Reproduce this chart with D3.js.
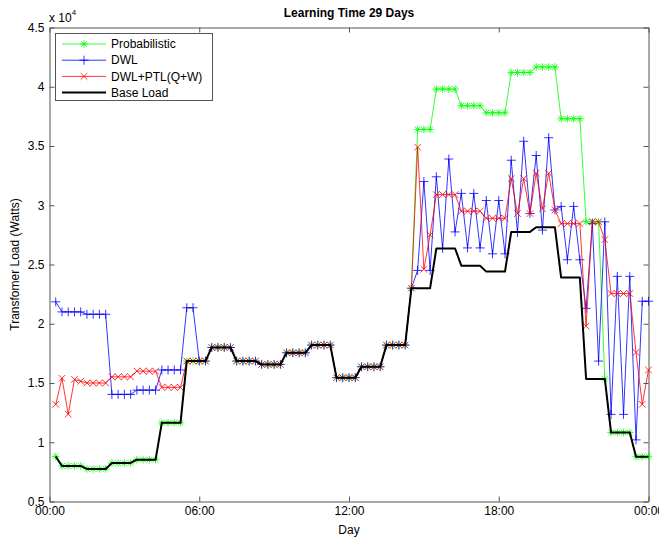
<!DOCTYPE html>
<html>
<head>
<meta charset="utf-8">
<script src="https://cdn.jsdelivr.net/npm/d3@7"></script>
<style>
  html, body { margin: 0; padding: 0; background: #fff; }
  svg { display: block; font-family: "Liberation Sans", Arial, sans-serif; }
</style>
</head>
<body>
<svg id="chart" width="659" height="540"></svg>
<script>
// ---------- DATA (watts), one point every 15 minutes from 00:15 to 24:00 ----------
const hours = Array.from({length: 96}, (_, i) => (i + 1) * 0.25); // time axis positions (hours)

const baseLoad = [8800,
  8000,8000,8000,8000, 7750,7750,7750,7750, 8250,8250,8250,8250, 8530,8530,8530,8530,
  11640,11640,11640,11640, 16850,16850,16850,16850, 18000,18000,18000,18000, 16850,16850,16850,16850,
  16570,16570,16570,16570, 17550,17550,17550,17550, 18200,18200,18200,18200, 15450,15450,15450,15450,
  16370,16370,16370,16370, 18200,18200,18200,18200, 23000,23000,23000,23000, 26350,26350,26350,26350,
  24900,24900,24900,24900, 24400,24400,24400,24400, 27750,27750,27750,27750, 28150,28150,28150,28150,
  23900,23900,23900,23900, 15340,15340,15340,15340, 10820,10820,10820,10820, 8780,8780,8780];

const probabilistic = [8800,
  8000,8000,8000,8000, 7750,7750,7750,7750, 8250,8250,8250,8250, 8530,8530,8530,8530,
  11640,11640,11640,11640, 16850,16850,16850,16850, 18000,18000,18000,18000, 16850,16850,16850,16850,
  16570,16570,16570,16570, 17550,17550,17550,17550, 18200,18200,18200,18200, 15450,15450,15450,15450,
  16370,16370,16370,16370, 18200,18200,18200,18200, 23000,36400,36400,36400, 39800,39800,39800,39800,
  38400,38400,38400,38400, 37800,37800,37800,37800, 41200,41200,41200,41200, 41670,41670,41670,41670,
  37300,37300,37300,37300, 28600,28600,28600,15340, 10820,10820,10820,10820, 8780,8780,8780];

const dwl = [21850,
  21000,21000,21000,21000, 20800,20800,20800,20800, 14040,14040,14040,14040, 14400,14400,14400,14400,
  16100,16100,16100,16100, 21350,21350,16850,16850, 18000,18000,18000,18000, 16850,16850,16850,16850,
  16570,16570,16570,16570, 17550,17550,17550,17550, 18200,18200,18200,18200, 15450,15450,15450,15450,
  16370,16370,16370,16370, 18200,18200,18200,18200, 23000,24500,32000,24500, 32400,26350,33900,27750,
  31000,26400,31000,26400, 30400,25900,30400,25900, 33800,27700,35400,29300, 34200,27900,35700,29600,
  29900,25400,29900,25400, 21300,28450,16850,28600, 12350,24000,12350,24000, 10200,21900,21900];

const dwlPtl = [13200,
  15400,12370,15300,15150, 15000,15000,15000,15000, 15520,15520,15520,15520, 16000,16000,16000,16000,
  14630,14630,14630,14630, 16850,16850,16850,16850, 18000,18000,18000,18000, 16850,16850,16850,16850,
  16570,16570,16570,16570, 17550,17550,17550,17550, 18200,18200,18200,18200, 15450,15450,15450,15450,
  16370,16370,16370,16370, 18200,18200,18200,18200, 23000,34900,24600,27500, 30900,30900,30900,30900,
  29500,29500,29500,29500, 28900,28900,28900,28900, 32250,29300,32250,29300, 32700,29700,32700,29600,
  28450,28450,28450,28450, 19800,28600,28600,27100, 22550,22550,22550,22550, 17580,13200,16100];

const xTickValues = [0, 6, 12, 18, 24];
const xTickLabels = ["00:00", "06:00", "12:00", "18:00", "00:00"];
const yTickValues = [5000, 10000, 15000, 20000, 25000, 30000, 35000, 40000, 45000];
const yTickLabels = ["0.5", "1", "1.5", "2", "2.5", "3", "3.5", "4", "4.5"];

const seriesNames = ["Probabilistic", "DWL", "DWL+PTL(Q+W)", "Base Load"];
const seriesColors = ["#00ff00", "#0000ff", "#ff0000", "#000000"];
const seriesMarkers = ["star", "plus", "cross", "none"];
const seriesData = [probabilistic, dwl, dwlPtl, baseLoad];

// ---------- CHART ----------
const svg = d3.select("#chart");
const L = 49.5, R = 648.5, T = 27.5, B = 501.5;

const x = d3.scaleLinear().domain([0, 24]).range([L, R]);
const y = d3.scaleLinear().domain([5000, 45000]).range([B, T]);

const axisColor = "#555";

// Axes (inward ticks, box)
const gx = svg.append("g").attr("transform", `translate(0,${B})`)
  .call(d3.axisBottom(x).tickValues(xTickValues).tickFormat((d, i) => xTickLabels[i])
    .tickSizeInner(-5).tickSizeOuter(0).tickPadding(5));
const gxt = svg.append("g").attr("transform", `translate(0,${T})`)
  .call(d3.axisTop(x).tickValues(xTickValues).tickFormat("").tickSizeInner(-5).tickSizeOuter(0));
const gy = svg.append("g").attr("transform", `translate(${L},0)`)
  .call(d3.axisLeft(y).tickValues(yTickValues).tickFormat((d, i) => yTickLabels[i])
    .tickSizeInner(-5).tickSizeOuter(0).tickPadding(5));
const gyr = svg.append("g").attr("transform", `translate(${R},0)`)
  .call(d3.axisRight(y).tickValues(yTickValues).tickFormat("").tickSizeInner(-5).tickSizeOuter(0));

[gx, gxt, gy, gyr].forEach(g => {
  g.select(".domain").attr("stroke", axisColor);
  g.selectAll(".tick line").attr("stroke", axisColor);
  g.selectAll(".tick text").attr("fill", "#000").style("font-size", "12px")
    .style("font-family", "'Liberation Sans', Arial, sans-serif");
});

// Lines and markers
const line = d3.line().x((d, i) => x(hours[i])).y(d => y(d));

function markerPath(type, cx, cy) {
  if (type === "plus") {
    const s = 4.5;
    return `M${cx - s},${cy}H${cx + s}M${cx},${cy - s}V${cy + s}`;
  }
  if (type === "cross") {
    const s = 3.3;
    return `M${cx - s},${cy - s}L${cx + s},${cy + s}M${cx - s},${cy + s}L${cx + s},${cy - s}`;
  }
  if (type === "star") {
    const s = 3.8, d = 2.8;
    return `M${cx - s},${cy}H${cx + s}M${cx},${cy - s}V${cy + s}` +
           `M${cx - d},${cy - d}L${cx + d},${cy + d}M${cx - d},${cy + d}L${cx + d},${cy - d}`;
  }
  return "";
}

seriesData.forEach((data, k) => {
  const g = svg.append("g");
  g.append("path").datum(data)
    .attr("d", line)
    .attr("fill", "none")
    .attr("stroke", seriesColors[k])
    .attr("stroke-width", k === 3 ? 2 : 0.8)
    .attr("stroke-linejoin", "round");
  if (seriesMarkers[k] !== "none") {
    g.selectAll("path.m").data(data).enter().append("path")
      .attr("class", "m")
      .attr("d", (d, i) => markerPath(seriesMarkers[k], x(hours[i]), y(d)))
      .attr("fill", "none")
      .attr("stroke", seriesColors[k])
      .attr("stroke-width", 0.8);
  }
});

// Title and labels
svg.append("text").attr("x", (L + R) / 2).attr("y", 17).attr("text-anchor", "middle")
  .style("font-size", "12px").style("font-weight", "bold").text("Learning Time 29 Days");
svg.append("text").attr("x", (L + R) / 2).attr("y", 534).attr("text-anchor", "middle")
  .style("font-size", "12px").text("Day");
svg.append("text").attr("transform", `translate(19,${(T + B) / 2}) rotate(-90)`)
  .attr("text-anchor", "middle").style("font-size", "12px").text("Transfomer Load (Watts)");

// Exponent label
const ex = svg.append("text").attr("x", 49).attr("y", 22).style("font-size", "12px");
ex.append("tspan").text("x 10");
ex.append("tspan").attr("dy", -7).style("font-size", "8px").text("4");

// Legend
const lg = svg.append("g");
lg.append("rect").attr("x", 55.5).attr("y", 33.5).attr("width", 157).attr("height", 67)
  .attr("fill", "#fff").attr("stroke", axisColor).attr("stroke-width", 1);
seriesNames.forEach((name, k) => {
  const yy = 44 + k * 16.2;
  lg.append("line").attr("x1", 62).attr("x2", 106).attr("y1", yy).attr("y2", yy)
    .attr("stroke", seriesColors[k]).attr("stroke-width", k === 3 ? 2 : 0.8);
  if (seriesMarkers[k] !== "none") {
    lg.append("path").attr("d", markerPath(seriesMarkers[k], 84, yy))
      .attr("fill", "none").attr("stroke", seriesColors[k]).attr("stroke-width", 0.8);
  }
  lg.append("text").attr("x", 111).attr("y", yy).attr("dy", "0.35em")
    .style("font-size", "12px").text(name);
});
</script>
</body>
</html>
